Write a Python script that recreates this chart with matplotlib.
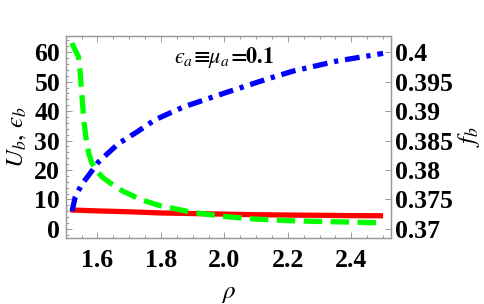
import matplotlib
matplotlib.use("Agg")
import matplotlib.pyplot as plt
from matplotlib.ticker import MultipleLocator, FixedLocator, FormatStrFormatter

plt.rcParams['font.family'] = ['Liberation Serif', 'DejaVu Serif']
plt.rcParams['mathtext.fontset'] = 'stix'

# ---- data ----
rho_u = [1.515, 1.52, 1.6, 1.7, 1.8, 1.9, 2.0, 2.1, 2.2, 2.3, 2.4, 2.5]
U_b = [6.5, 6.4, 6.1, 5.8, 5.4, 5.2, 5.0, 4.8, 4.7, 4.6, 4.5, 4.45]

rho_e = [1.519, 1.54, 1.545, 1.552, 1.558, 1.565, 1.573, 1.582, 1.595, 1.615, 1.64,
         1.68, 1.74, 1.8, 1.9, 2.0, 2.1, 2.2, 2.3, 2.4, 2.5]
eps_b = [63.1, 58.5, 54.0, 44.0, 36.0, 30.0, 25.5, 22.5, 20.0, 17.6, 15.6,
         12.8, 9.8, 7.8, 5.6, 4.2, 3.3, 2.8, 2.5, 2.3, 2.0]

rho_f = [1.52, 1.525, 1.53, 1.55, 1.577, 1.603, 1.666, 1.724, 1.782, 1.871,
         2.008, 2.138, 2.217, 2.355, 2.5]
f_b = [0.3730, 0.3742, 0.3754, 0.3775, 0.37944, 0.38135, 0.38447, 0.38644,
       0.38854, 0.3907, 0.3932, 0.3955, 0.3968, 0.3985, 0.3998]

x_ticks = [1.6, 1.8, 2.0, 2.2, 2.4]
left_ticks = [0, 10, 20, 30, 40, 50, 60]
right_ticks = [0.37, 0.375, 0.38, 0.385, 0.39, 0.395, 0.4]
right_labels = ['0.37', '0.375', '0.38', '0.385', '0.39', '0.395', '0.4']

W, H = 485, 304
fig = plt.figure(figsize=(W / 100, H / 100), dpi=100)
ax = fig.add_axes([65.7 / W, 1 - 237.7 / H, (391 - 65.7) / W, (237.7 - 36) / H])
ax2 = ax.twinx()

lw = 3.8
ax.plot(rho_u, U_b, color=(1, 0, 0), lw=lw, solid_capstyle='butt', zorder=2)
g, = ax.plot(rho_e, eps_b, color=(0, 1, 0), lw=lw, dash_capstyle='butt', zorder=3)
g.set_dashes([3.5, 1.6])
b, = ax2.plot(rho_f, f_b, color=(0, 0, 1), lw=lw, dash_capstyle='butt', zorder=3)
b.set_dashes([2.8, 1.3, 0.8, 1.3])

ax.set_xlim(1.5, 2.525)
ax.set_ylim(-3.0, 65.5)
ax2.set_ylim(0.37 - 3.0 / 2000, 0.37 + 65.5 / 2000)

ax.xaxis.set_major_locator(FixedLocator(x_ticks))
ax.xaxis.set_minor_locator(MultipleLocator(0.05))
ax.xaxis.set_major_formatter(FormatStrFormatter('%.1f'))
ax.yaxis.set_major_locator(FixedLocator(left_ticks))
ax.yaxis.set_minor_locator(MultipleLocator(2))
ax2.yaxis.set_major_locator(FixedLocator(right_ticks))
ax2.set_yticklabels(right_labels)
ax2.yaxis.set_minor_locator(MultipleLocator(0.001))

spine_c = '#999999'
for a in (ax, ax2):
    for s in a.spines.values():
        s.set_color(spine_c)
        s.set_linewidth(0.9)

ax.tick_params(axis='x', which='both', direction='in', top=True, bottom=True,
               color=spine_c, width=0.7, pad=8)
ax.tick_params(axis='x', which='major', length=4)
ax.tick_params(axis='x', which='minor', length=2.2)
ax.tick_params(axis='y', which='both', direction='in', left=True, right=False,
               color=spine_c, width=0.7, pad=4)
ax.tick_params(axis='y', which='major', length=4)
ax.tick_params(axis='y', which='minor', length=2.2)
ax2.tick_params(axis='y', which='both', direction='in', color=spine_c, width=0.7, pad=3)
ax2.tick_params(axis='y', which='major', length=4)
ax2.tick_params(axis='y', which='minor', length=0)

for lab in ax.get_xticklabels() + ax.get_yticklabels() + ax2.get_yticklabels():
    lab.set_fontsize(18.5)
    lab.set_fontweight('bold')
    lab.set_color('black')

ax.set_xlabel(r'$\rho$', fontsize=18, labelpad=8)
ax.set_ylabel('$U_b,\\,\u03f5_b$', fontsize=18, labelpad=4)
ax2.set_ylabel(r'$f_b$', fontsize=18, rotation=90, va='center', ha='center')
ax2.yaxis.set_label_coords((469 - 65.7) / (391 - 65.7), 0.5)

ax.text(2.0, 58.2, '$\\boldsymbol{\u03f5_a\\!\\equiv\\!\\mu_a\\!=\\!0.1}$', fontsize=16,
        ha='center', va='center')

fig.savefig('out.png', dpi=100)
